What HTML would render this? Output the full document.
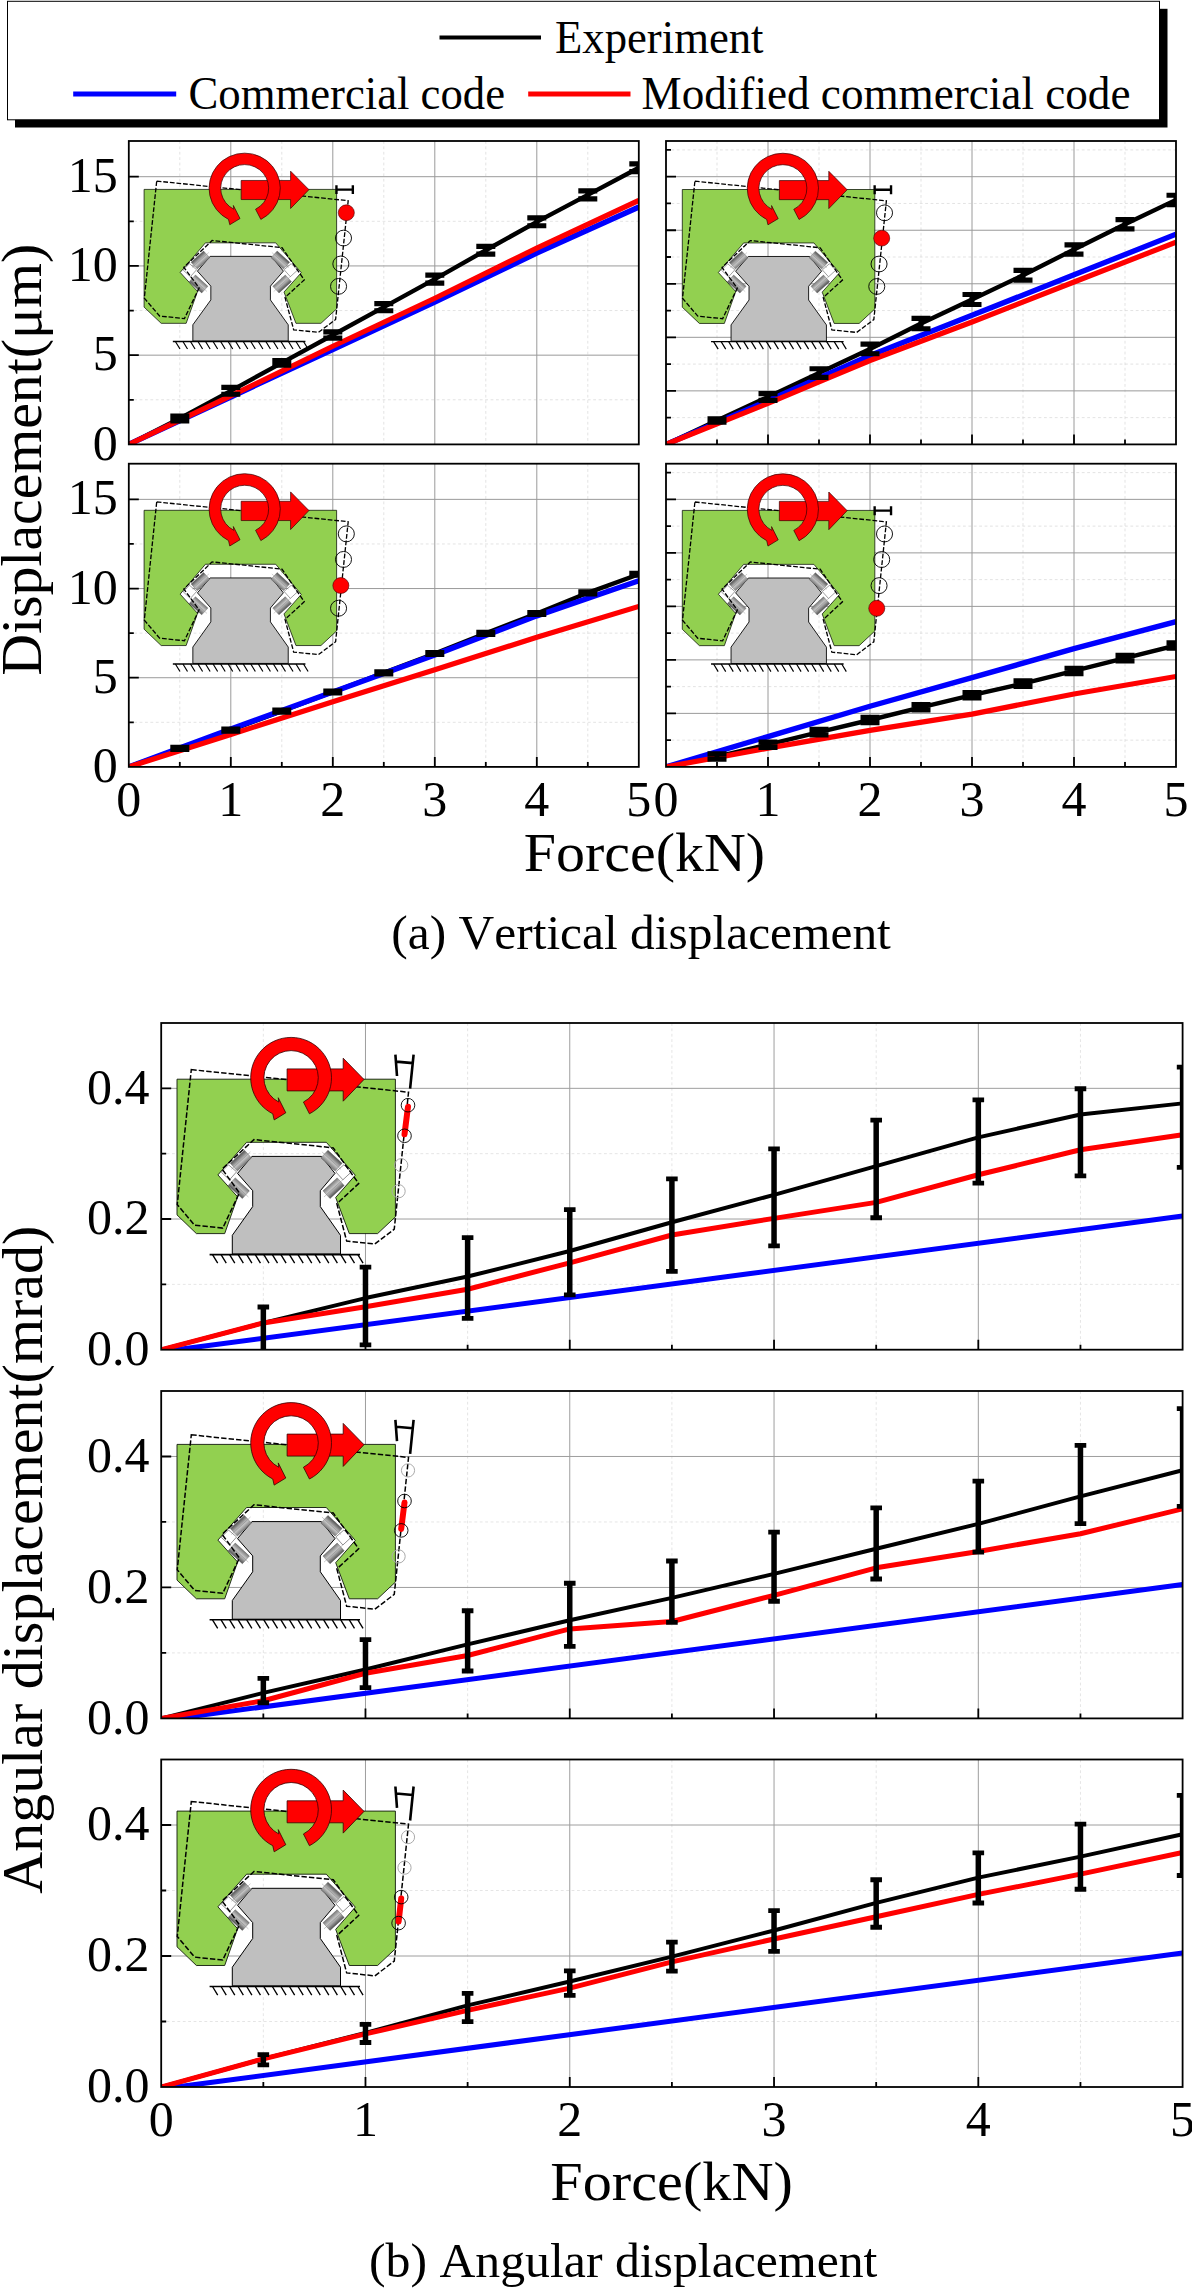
<!DOCTYPE html>
<html lang="en"><head><meta charset="utf-8"><title>Displacement vs force</title>
<style>html,body{margin:0;padding:0;background:#fff}svg{display:block}text{font-family:'Liberation Serif', 'DejaVu Serif', serif;fill:#000;font-kerning:none}</style>
</head><body>
<svg width="1192" height="2291" viewBox="0 0 1192 2291">
<rect width="1192" height="2291" fill="#fff"/>
<defs>
<linearGradient id="rg" x1="0" y1="0" x2="0" y2="1"><stop offset="0" stop-color="#525252"/><stop offset="0.45" stop-color="#b4b4b4"/><stop offset="0.6" stop-color="#c2c2c2"/><stop offset="1" stop-color="#7a7a7a"/></linearGradient>
<g id="blkA">
<polygon points="0,0 218.4,0 218.4,137.7 200.6,154.4 172.3,154.4 158.7,118.3 178.3,96 149.3,61.6 69.6,61.6 40.9,95.7 60.6,117.6 47.7,154.4 19.4,154.4 0,135.7" fill="#92d050" stroke="#10180a" stroke-width="0.9"/>
<polygon points="51.5,85.6 59.6,92.6 52.5,100.6 44.3,93" fill="#fff" stroke="#222" stroke-width="0.5"/>
<polygon points="166.9,85.6 158.8,92.6 165.9,100.6 174.1,93" fill="#fff" stroke="#222" stroke-width="0.5"/>
<polygon points="74.9,77.2 144.4,77.2 158,94.2 143.3,111.5 143.3,127.4 163.5,156.1 163.5,174.8 55.3,174.8 55.3,156.1 75.7,127.4 75.7,111.5 60.5,94.2" fill="#bfbfbf" stroke="#000" stroke-width="1"/>
<g transform="translate(63.9 81.4) rotate(-42.5)"><rect x="-9.6" y="-5.2" width="19.2" height="10.4" fill="url(#rg)" stroke="#555" stroke-width="0.4"/><line x1="-13" y1="0" x2="13" y2="0" stroke="#777" stroke-width="0.35"/></g>
<g transform="translate(61.8 109) rotate(222.5)"><rect x="-9.6" y="-5.2" width="19.2" height="10.4" fill="url(#rg)" stroke="#555" stroke-width="0.4"/><line x1="-13" y1="0" x2="13" y2="0" stroke="#777" stroke-width="0.35"/></g>
<g transform="translate(154.5 81.4) rotate(42.5)"><rect x="-9.6" y="-5.2" width="19.2" height="10.4" fill="url(#rg)" stroke="#555" stroke-width="0.4"/><line x1="-13" y1="0" x2="13" y2="0" stroke="#777" stroke-width="0.35"/></g>
<g transform="translate(156.6 109) rotate(137.5)"><rect x="-9.6" y="-5.2" width="19.2" height="10.4" fill="url(#rg)" stroke="#555" stroke-width="0.4"/><line x1="-13" y1="0" x2="13" y2="0" stroke="#777" stroke-width="0.35"/></g>
<line x1="32.6" y1="175.4" x2="183" y2="175.4" stroke="#000" stroke-width="1.6"/>
<path d="M35.5 175.4l5.2 8.6M44.05 175.4l5.2 8.6M52.6 175.4l5.2 8.6M61.15 175.4l5.2 8.6M69.7 175.4l5.2 8.6M78.25 175.4l5.2 8.6M86.8 175.4l5.2 8.6M95.35 175.4l5.2 8.6M103.9 175.4l5.2 8.6M112.45 175.4l5.2 8.6M121 175.4l5.2 8.6M129.55 175.4l5.2 8.6M138.1 175.4l5.2 8.6M146.65 175.4l5.2 8.6M155.2 175.4l5.2 8.6M163.75 175.4l5.2 8.6M172.3 175.4l5.2 8.6M180.85 175.4l5.2 8.6" stroke="#000" stroke-width="1.35" fill="none"/>
<polygon points="0,0 218.4,0 218.4,137.7 200.6,154.4 172.3,154.4 158.7,118.3 178.3,96 149.3,61.6 69.6,61.6 40.9,95.7 60.6,117.6 47.7,154.4 19.4,154.4 0,135.7" fill="none" stroke="#000" stroke-width="1.5" stroke-dasharray="5.4 2.1" transform="rotate(5.95 99.5 132.8)"/>
<polygon points="110.1,-10.3 166.2,-10.3 166.2,-21 187,0.3 166.2,22 166.2,11.7 110.1,11.7" fill="#f00" stroke="#300" stroke-width="0.8"/>
<path d="M132.44 34.6 A40.4 40.4 0 1 0 95.76 34.6 L97.17 40.72 L108.81 33.6 L101.26 18.52 L101.75 22.84 A27.2 27.2 0 1 1 126.45 22.84 Z" fill="#f00" stroke="#300" stroke-width="0.8" stroke-linejoin="miter"/>
</g>
<g id="blkB">
<polygon points="0,0 218.4,0 218.4,137.7 200.6,154.4 172.3,154.4 158.7,118.3 178.3,96 149.3,63.1 69.6,63.1 40.9,95.7 60.6,117.6 47.7,154.4 19.4,154.4 0,135.7" fill="#92d050" stroke="#10180a" stroke-width="0.9"/>
<polygon points="51.5,85.6 59.6,92.6 52.5,100.6 44.3,93" fill="#fff" stroke="#222" stroke-width="0.5"/>
<polygon points="166.9,85.6 158.8,92.6 165.9,100.6 174.1,93" fill="#fff" stroke="#222" stroke-width="0.5"/>
<polygon points="74.9,77.2 144.4,77.2 158,94.2 143.3,111.5 143.3,127.4 163.5,156.1 163.5,174.8 55.3,174.8 55.3,156.1 75.7,127.4 75.7,111.5 60.5,94.2" fill="#bfbfbf" stroke="#000" stroke-width="1"/>
<g transform="translate(63.9 81.4) rotate(-42.5)"><rect x="-9.6" y="-5.2" width="19.2" height="10.4" fill="url(#rg)" stroke="#555" stroke-width="0.4"/><line x1="-13" y1="0" x2="13" y2="0" stroke="#777" stroke-width="0.35"/></g>
<g transform="translate(61.8 109) rotate(222.5)"><rect x="-9.6" y="-5.2" width="19.2" height="10.4" fill="url(#rg)" stroke="#555" stroke-width="0.4"/><line x1="-13" y1="0" x2="13" y2="0" stroke="#777" stroke-width="0.35"/></g>
<g transform="translate(154.5 81.4) rotate(42.5)"><rect x="-9.6" y="-5.2" width="19.2" height="10.4" fill="url(#rg)" stroke="#555" stroke-width="0.4"/><line x1="-13" y1="0" x2="13" y2="0" stroke="#777" stroke-width="0.35"/></g>
<g transform="translate(156.6 109) rotate(137.5)"><rect x="-9.6" y="-5.2" width="19.2" height="10.4" fill="url(#rg)" stroke="#555" stroke-width="0.4"/><line x1="-13" y1="0" x2="13" y2="0" stroke="#777" stroke-width="0.35"/></g>
<line x1="32.6" y1="175.4" x2="183" y2="175.4" stroke="#000" stroke-width="1.6"/>
<path d="M35.5 175.4l5.2 8.6M44.05 175.4l5.2 8.6M52.6 175.4l5.2 8.6M61.15 175.4l5.2 8.6M69.7 175.4l5.2 8.6M78.25 175.4l5.2 8.6M86.8 175.4l5.2 8.6M95.35 175.4l5.2 8.6M103.9 175.4l5.2 8.6M112.45 175.4l5.2 8.6M121 175.4l5.2 8.6M129.55 175.4l5.2 8.6M138.1 175.4l5.2 8.6M146.65 175.4l5.2 8.6M155.2 175.4l5.2 8.6M163.75 175.4l5.2 8.6M172.3 175.4l5.2 8.6M180.85 175.4l5.2 8.6" stroke="#000" stroke-width="1.35" fill="none"/>
<polygon points="0,0 218.4,0 218.4,137.7 200.6,154.4 172.3,154.4 158.7,118.3 178.3,96 149.3,63.1 69.6,63.1 40.9,95.7 60.6,117.6 47.7,154.4 19.4,154.4 0,135.7" fill="none" stroke="#000" stroke-width="1.5" stroke-dasharray="5.4 2.1" transform="rotate(5.95 99.5 132.8)"/>
<polygon points="110.1,-10.3 166.2,-10.3 166.2,-21 187,0.3 166.2,22 166.2,11.7 110.1,11.7" fill="#f00" stroke="#300" stroke-width="0.8"/>
<path d="M132.44 34.6 A40.4 40.4 0 1 0 95.76 34.6 L97.17 40.72 L108.81 33.6 L101.26 18.52 L101.75 22.84 A27.2 27.2 0 1 1 126.45 22.84 Z" fill="#f00" stroke="#300" stroke-width="0.8" stroke-linejoin="miter"/>
</g>
</defs>
<rect x="15" y="8.8" width="1152.5" height="118.7" fill="#000"/>
<rect x="7.5" y="1.3" width="1152" height="118.5" fill="#fff" stroke="#000" stroke-width="1"/>
<line x1="439.5" y1="37.6" x2="541" y2="37.6" stroke="#000" stroke-width="4"/>
<line x1="73.2" y1="94" x2="176.2" y2="94" stroke="#00f" stroke-width="5.2"/>
<line x1="528.2" y1="94" x2="630.5" y2="94" stroke="#f00" stroke-width="5.2"/>
<text x="555" y="52.7" font-size="45.5" text-anchor="start" textLength="208.5" lengthAdjust="spacingAndGlyphs">Experiment</text>
<text x="188.5" y="109" font-size="45.5" text-anchor="start" textLength="316.5" lengthAdjust="spacingAndGlyphs">Commercial code</text>
<text x="641.5" y="109" font-size="45.5" text-anchor="start" textLength="489" lengthAdjust="spacingAndGlyphs">Modified commercial code</text>
<clipPath id="c0"><rect x="128.8" y="141" width="510" height="303.4"/></clipPath>
<rect x="128.8" y="141" width="510" height="303.4" fill="#fff"/>
<path d="M179.8 141V444.4M281.8 141V444.4M383.8 141V444.4M485.8 141V444.4M587.8 141V444.4M128.8 399.78H638.8M128.8 310.55H638.8M128.8 221.31H638.8" stroke="#d9d9d9" stroke-width="0.75" stroke-dasharray="2.8 2.6" fill="none"/>
<path d="M230.8 141V444.4M332.8 141V444.4M434.8 141V444.4M536.8 141V444.4M128.8 355.16H638.8M128.8 265.93H638.8M128.8 176.69H638.8" stroke="#9a9a9a" stroke-width="1" fill="none"/>
<g transform="translate(144.1 189.4) scale(0.8815 0.8675)">
<use href="#blkA"/>
<path d="M218.2 0.3H236.8M218.2 -4.8V5.4M236.8 -4.8V5.4" stroke="#000" stroke-width="2.7" fill="none"/>
<circle cx="229.4" cy="26.9" r="9.1" fill="#f00" stroke="#400" stroke-width="0.7"/>
<circle cx="226.2" cy="56.1" r="9.1" fill="none" stroke="#000" stroke-width="1.05"/>
<circle cx="223.2" cy="85.9" r="9.1" fill="none" stroke="#000" stroke-width="1.05"/>
<circle cx="220.6" cy="111.8" r="9.1" fill="none" stroke="#000" stroke-width="1.05"/>
</g>
<g clip-path="url(#c0)" fill="none" stroke-linejoin="round">
<polyline points="128.8,444.4 179.8,418.52 230.8,390.86 281.8,362.84 332.8,335 383.8,307.16 434.8,279.14 485.8,250.22 536.8,221.85 587.8,194.9 638.8,167.77" stroke="#000" stroke-width="4.4"/>
<polyline points="128.8,444.4 230.8,396.93 332.8,349.45 434.8,301.98 536.8,253.08 638.8,207.03" stroke="#00f" stroke-width="5.4"/>
<polyline points="128.8,444.4 230.8,395.86 332.8,346.24 434.8,298.23 536.8,248.08 638.8,200.43" stroke="#f00" stroke-width="5.2"/>
<path d="M179.8 416.2V420.84" stroke="#000" stroke-width="5"/>
<path d="M170.3 416.2H189.3M170.3 420.84H189.3" stroke="#000" stroke-width="5.2"/>
<path d="M230.8 387.47V394.25" stroke="#000" stroke-width="5"/>
<path d="M221.3 387.47H240.3M221.3 394.25H240.3" stroke="#000" stroke-width="5.2"/>
<path d="M281.8 360.52V365.16" stroke="#000" stroke-width="5"/>
<path d="M272.3 360.52H291.3M272.3 365.16H291.3" stroke="#000" stroke-width="5.2"/>
<path d="M332.8 331.96V338.03" stroke="#000" stroke-width="5"/>
<path d="M323.3 331.96H342.3M323.3 338.03H342.3" stroke="#000" stroke-width="5.2"/>
<path d="M383.8 303.59V310.73" stroke="#000" stroke-width="5"/>
<path d="M374.3 303.59H393.3M374.3 310.73H393.3" stroke="#000" stroke-width="5.2"/>
<path d="M434.8 275.21V283.06" stroke="#000" stroke-width="5"/>
<path d="M425.3 275.21H444.3M425.3 283.06H444.3" stroke="#000" stroke-width="5.2"/>
<path d="M485.8 246.3V254.15" stroke="#000" stroke-width="5"/>
<path d="M476.3 246.3H495.3M476.3 254.15H495.3" stroke="#000" stroke-width="5.2"/>
<path d="M536.8 217.92V225.77" stroke="#000" stroke-width="5"/>
<path d="M527.3 217.92H546.3M527.3 225.77H546.3" stroke="#000" stroke-width="5.2"/>
<path d="M587.8 190.97V198.82" stroke="#000" stroke-width="5"/>
<path d="M578.3 190.97H597.3M578.3 198.82H597.3" stroke="#000" stroke-width="5.2"/>
<path d="M638.8 163.84V171.7" stroke="#000" stroke-width="5"/>
<path d="M629.3 163.84H648.3M629.3 171.7H648.3" stroke="#000" stroke-width="5.2"/>
</g>
<path d="M128.8 355.16H138.8M128.8 265.93H138.8M128.8 176.69H138.8M128.8 399.78H133.8M128.8 310.55H133.8M128.8 221.31H133.8" stroke="#000" stroke-width="1.8" fill="none"/>
<rect x="128.8" y="141" width="510" height="303.4" fill="none" stroke="#000" stroke-width="1.8"/>
<clipPath id="c1"><rect x="666" y="141" width="510" height="303.4"/></clipPath>
<rect x="666" y="141" width="510" height="303.4" fill="#fff"/>
<path d="M717 141V444.4M819 141V444.4M921 141V444.4M1023 141V444.4M1125 141V444.4M666 417.63H1176M666 364.09H1176M666 310.55H1176M666 257.01H1176M666 203.46H1176M666 149.92H1176" stroke="#d9d9d9" stroke-width="0.75" stroke-dasharray="2.8 2.6" fill="none"/>
<path d="M768 141V444.4M870 141V444.4M972 141V444.4M1074 141V444.4M666 390.86H1176M666 337.32H1176M666 283.78H1176M666 230.24H1176M666 176.69H1176" stroke="#9a9a9a" stroke-width="1" fill="none"/>
<g transform="translate(682.3 189.5) scale(0.8815 0.8675)">
<use href="#blkA"/>
<path d="M218.2 0.3H236.8M218.2 -4.8V5.4M236.8 -4.8V5.4" stroke="#000" stroke-width="2.7" fill="none"/>
<circle cx="229.4" cy="26.9" r="9.1" fill="none" stroke="#000" stroke-width="1.05"/>
<circle cx="226.2" cy="56.1" r="9.1" fill="#f00" stroke="#400" stroke-width="0.7"/>
<circle cx="223.2" cy="85.9" r="9.1" fill="none" stroke="#000" stroke-width="1.05"/>
<circle cx="220.6" cy="111.8" r="9.1" fill="none" stroke="#000" stroke-width="1.05"/>
</g>
<g clip-path="url(#c1)" fill="none" stroke-linejoin="round">
<polyline points="666,444.4 717,420.48 768,396.93 819,373.01 870,348.92 921,323.58 972,299.48 1023,275.21 1074,249.51 1125,224.17 1176,199.9" stroke="#000" stroke-width="4.4"/>
<polyline points="666,444.4 768,400.67 819,378.01 870,355.52 972,315.19 1074,274.85 1176,234.16" stroke="#00f" stroke-width="5.4"/>
<polyline points="666,444.4 768,403.35 819,381.94 870,360.52 972,321.97 1074,281.99 1176,242.19" stroke="#f00" stroke-width="5.2"/>
<path d="M717 418.83V422.14" stroke="#000" stroke-width="5"/>
<path d="M707.5 418.83H726.5M707.5 422.14H726.5" stroke="#000" stroke-width="5.2"/>
<path d="M768 393.54V400.32" stroke="#000" stroke-width="5"/>
<path d="M758.5 393.54H777.5M758.5 400.32H777.5" stroke="#000" stroke-width="5.2"/>
<path d="M819 368.73V377.3" stroke="#000" stroke-width="5"/>
<path d="M809.5 368.73H828.5M809.5 377.3H828.5" stroke="#000" stroke-width="5.2"/>
<path d="M870 344.1V353.74" stroke="#000" stroke-width="5"/>
<path d="M860.5 344.1H879.5M860.5 353.74H879.5" stroke="#000" stroke-width="5.2"/>
<path d="M921 318.4V328.75" stroke="#000" stroke-width="5"/>
<path d="M911.5 318.4H930.5M911.5 328.75H930.5" stroke="#000" stroke-width="5.2"/>
<path d="M972 294.48V304.48" stroke="#000" stroke-width="5"/>
<path d="M962.5 294.48H981.5M962.5 304.48H981.5" stroke="#000" stroke-width="5.2"/>
<path d="M1023 270.39V280.03" stroke="#000" stroke-width="5"/>
<path d="M1013.5 270.39H1032.5M1013.5 280.03H1032.5" stroke="#000" stroke-width="5.2"/>
<path d="M1074 244.87V254.15" stroke="#000" stroke-width="5"/>
<path d="M1064.5 244.87H1083.5M1064.5 254.15H1083.5" stroke="#000" stroke-width="5.2"/>
<path d="M1125 219.53V228.81" stroke="#000" stroke-width="5"/>
<path d="M1115.5 219.53H1134.5M1115.5 228.81H1134.5" stroke="#000" stroke-width="5.2"/>
<path d="M1176 195.26V204.54" stroke="#000" stroke-width="5"/>
<path d="M1166.5 195.26H1185.5M1166.5 204.54H1185.5" stroke="#000" stroke-width="5.2"/>
</g>
<path d="M717 444.4V439.4M768 444.4V434.4M819 444.4V439.4M870 444.4V434.4M921 444.4V439.4M972 444.4V434.4M1023 444.4V439.4M1074 444.4V434.4M1125 444.4V439.4M666 390.86H676M666 337.32H676M666 283.78H676M666 230.24H676M666 176.69H676M666 417.63H671M666 364.09H671M666 310.55H671M666 257.01H671M666 203.46H671M666 149.92H671" stroke="#000" stroke-width="1.8" fill="none"/>
<rect x="666" y="141" width="510" height="303.4" fill="none" stroke="#000" stroke-width="1.8"/>
<clipPath id="c2"><rect x="128.8" y="463.7" width="510" height="303.2"/></clipPath>
<rect x="128.8" y="463.7" width="510" height="303.2" fill="#fff"/>
<path d="M179.8 463.7V766.9M281.8 463.7V766.9M383.8 463.7V766.9M485.8 463.7V766.9M587.8 463.7V766.9M128.8 722.31H638.8M128.8 633.14H638.8M128.8 543.96H638.8" stroke="#d9d9d9" stroke-width="0.75" stroke-dasharray="2.8 2.6" fill="none"/>
<path d="M230.8 463.7V766.9M332.8 463.7V766.9M434.8 463.7V766.9M536.8 463.7V766.9M128.8 677.72H638.8M128.8 588.55H638.8M128.8 499.37H638.8" stroke="#9a9a9a" stroke-width="1" fill="none"/>
<g transform="translate(144.1 510.3) scale(0.8815 0.876)">
<use href="#blkA"/>
<circle cx="229.4" cy="26.9" r="9.1" fill="none" stroke="#000" stroke-width="1.05"/>
<circle cx="226.2" cy="56.1" r="9.1" fill="none" stroke="#000" stroke-width="1.05"/>
<circle cx="223.2" cy="85.9" r="9.1" fill="#f00" stroke="#400" stroke-width="0.7"/>
<circle cx="220.6" cy="111.8" r="9.1" fill="none" stroke="#000" stroke-width="1.05"/>
</g>
<g clip-path="url(#c2)" fill="none" stroke-linejoin="round">
<polyline points="128.8,766.9 179.8,748.35 230.8,730.16 281.8,711.08 332.8,691.99 383.8,672.91 434.8,653.47 485.8,633.31 536.8,613.52 587.8,592.83 638.8,574.28" stroke="#000" stroke-width="4.4"/>
<polyline points="128.8,766.9 230.8,729.09 332.8,691.99 434.8,654.89 536.8,615.84 638.8,580.7" stroke="#00f" stroke-width="5.4"/>
<polyline points="128.8,766.9 230.8,734.44 332.8,701.8 434.8,669.7 536.8,637.24 638.8,606.38" stroke="#f00" stroke-width="5.2"/>
<path d="M179.8 747.37V749.33" stroke="#000" stroke-width="5"/>
<path d="M170.3 747.37H189.3M170.3 749.33H189.3" stroke="#000" stroke-width="5.2"/>
<path d="M230.8 729.18V731.14" stroke="#000" stroke-width="5"/>
<path d="M221.3 729.18H240.3M221.3 731.14H240.3" stroke="#000" stroke-width="5.2"/>
<path d="M281.8 710.09V712.06" stroke="#000" stroke-width="5"/>
<path d="M272.3 710.09H291.3M272.3 712.06H291.3" stroke="#000" stroke-width="5.2"/>
<path d="M332.8 691.01V692.97" stroke="#000" stroke-width="5"/>
<path d="M323.3 691.01H342.3M323.3 692.97H342.3" stroke="#000" stroke-width="5.2"/>
<path d="M383.8 671.93V673.89" stroke="#000" stroke-width="5"/>
<path d="M374.3 671.93H393.3M374.3 673.89H393.3" stroke="#000" stroke-width="5.2"/>
<path d="M434.8 652.49V654.45" stroke="#000" stroke-width="5"/>
<path d="M425.3 652.49H444.3M425.3 654.45H444.3" stroke="#000" stroke-width="5.2"/>
<path d="M485.8 632.33V634.29" stroke="#000" stroke-width="5"/>
<path d="M476.3 632.33H495.3M476.3 634.29H495.3" stroke="#000" stroke-width="5.2"/>
<path d="M536.8 612.54V614.5" stroke="#000" stroke-width="5"/>
<path d="M527.3 612.54H546.3M527.3 614.5H546.3" stroke="#000" stroke-width="5.2"/>
<path d="M587.8 591.85V593.81" stroke="#000" stroke-width="5"/>
<path d="M578.3 591.85H597.3M578.3 593.81H597.3" stroke="#000" stroke-width="5.2"/>
<path d="M638.8 573.3V575.26" stroke="#000" stroke-width="5"/>
<path d="M629.3 573.3H648.3M629.3 575.26H648.3" stroke="#000" stroke-width="5.2"/>
</g>
<path d="M179.8 766.9V761.9M230.8 766.9V756.9M281.8 766.9V761.9M332.8 766.9V756.9M383.8 766.9V761.9M434.8 766.9V756.9M485.8 766.9V761.9M536.8 766.9V756.9M587.8 766.9V761.9M128.8 677.72H138.8M128.8 588.55H138.8M128.8 499.37H138.8M128.8 722.31H133.8M128.8 633.14H133.8M128.8 543.96H133.8" stroke="#000" stroke-width="1.8" fill="none"/>
<rect x="128.8" y="463.7" width="510" height="303.2" fill="none" stroke="#000" stroke-width="1.8"/>
<clipPath id="c3"><rect x="666" y="463.7" width="510" height="303.2"/></clipPath>
<rect x="666" y="463.7" width="510" height="303.2" fill="#fff"/>
<path d="M717 463.7V766.9M819 463.7V766.9M921 463.7V766.9M1023 463.7V766.9M1125 463.7V766.9M666 740.15H1176M666 686.64H1176M666 633.14H1176M666 579.63H1176M666 526.12H1176M666 472.62H1176" stroke="#d9d9d9" stroke-width="0.75" stroke-dasharray="2.8 2.6" fill="none"/>
<path d="M768 463.7V766.9M870 463.7V766.9M972 463.7V766.9M1074 463.7V766.9M666 713.39H1176M666 659.89H1176M666 606.38H1176M666 552.88H1176M666 499.37H1176" stroke="#9a9a9a" stroke-width="1" fill="none"/>
<g transform="translate(682.3 510.4) scale(0.8815 0.876)">
<use href="#blkA"/>
<path d="M218.2 0.3H236.8M218.2 -4.8V5.4M236.8 -4.8V5.4" stroke="#000" stroke-width="2.7" fill="none"/>
<circle cx="229.4" cy="26.9" r="9.1" fill="none" stroke="#000" stroke-width="1.05"/>
<circle cx="226.2" cy="56.1" r="9.1" fill="none" stroke="#000" stroke-width="1.05"/>
<circle cx="223.2" cy="85.9" r="9.1" fill="none" stroke="#000" stroke-width="1.05"/>
<circle cx="220.6" cy="111.8" r="9.1" fill="#f00" stroke="#400" stroke-width="0.7"/>
</g>
<g clip-path="url(#c3)" fill="none" stroke-linejoin="round">
<polyline points="666,766.9 717,756.56 768,744.7 819,732.12 870,719.99 921,707.33 972,695.2 1023,683.61 1074,670.95 1125,658.1 1176,645.44" stroke="#000" stroke-width="4.4"/>
<polyline points="666,766.9 768,736.58 870,706.26 972,677.72 1074,648.65 1176,621.72" stroke="#00f" stroke-width="5.4"/>
<polyline points="666,766.9 768,748.17 870,730.34 972,714.11 1074,693.95 1176,676.48" stroke="#f00" stroke-width="5.2"/>
<path d="M717 753.88V759.23" stroke="#000" stroke-width="5"/>
<path d="M707.5 753.88H726.5M707.5 759.23H726.5" stroke="#000" stroke-width="5.2"/>
<path d="M768 742.02V747.37" stroke="#000" stroke-width="5"/>
<path d="M758.5 742.02H777.5M758.5 747.37H777.5" stroke="#000" stroke-width="5.2"/>
<path d="M819 729.45V734.8" stroke="#000" stroke-width="5"/>
<path d="M809.5 729.45H828.5M809.5 734.8H828.5" stroke="#000" stroke-width="5.2"/>
<path d="M870 717.32V722.67" stroke="#000" stroke-width="5"/>
<path d="M860.5 717.32H879.5M860.5 722.67H879.5" stroke="#000" stroke-width="5.2"/>
<path d="M921 704.65V710.01" stroke="#000" stroke-width="5"/>
<path d="M911.5 704.65H930.5M911.5 710.01H930.5" stroke="#000" stroke-width="5.2"/>
<path d="M972 692.53V697.88" stroke="#000" stroke-width="5"/>
<path d="M962.5 692.53H981.5M962.5 697.88H981.5" stroke="#000" stroke-width="5.2"/>
<path d="M1023 680.93V686.28" stroke="#000" stroke-width="5"/>
<path d="M1013.5 680.93H1032.5M1013.5 686.28H1032.5" stroke="#000" stroke-width="5.2"/>
<path d="M1074 668.27V673.62" stroke="#000" stroke-width="5"/>
<path d="M1064.5 668.27H1083.5M1064.5 673.62H1083.5" stroke="#000" stroke-width="5.2"/>
<path d="M1125 655.43V660.78" stroke="#000" stroke-width="5"/>
<path d="M1115.5 655.43H1134.5M1115.5 660.78H1134.5" stroke="#000" stroke-width="5.2"/>
<path d="M1176 642.77V648.12" stroke="#000" stroke-width="5"/>
<path d="M1166.5 642.77H1185.5M1166.5 648.12H1185.5" stroke="#000" stroke-width="5.2"/>
</g>
<path d="M717 766.9V761.9M768 766.9V756.9M819 766.9V761.9M870 766.9V756.9M921 766.9V761.9M972 766.9V756.9M1023 766.9V761.9M1074 766.9V756.9M1125 766.9V761.9M666 713.39H676M666 659.89H676M666 606.38H676M666 552.88H676M666 499.37H676M666 740.15H671M666 686.64H671M666 633.14H671M666 579.63H671M666 526.12H671M666 472.62H671" stroke="#000" stroke-width="1.8" fill="none"/>
<rect x="666" y="463.7" width="510" height="303.2" fill="none" stroke="#000" stroke-width="1.8"/>
<text x="117.8" y="459.5" font-size="50" text-anchor="end">0</text>
<text x="117.8" y="370.26" font-size="50" text-anchor="end">5</text>
<text x="117.8" y="281.03" font-size="50" text-anchor="end">10</text>
<text x="117.8" y="191.79" font-size="50" text-anchor="end">15</text>
<text x="117.8" y="782" font-size="50" text-anchor="end">0</text>
<text x="117.8" y="692.82" font-size="50" text-anchor="end">5</text>
<text x="117.8" y="603.65" font-size="50" text-anchor="end">10</text>
<text x="117.8" y="514.47" font-size="50" text-anchor="end">15</text>
<text x="128.8" y="816.2" font-size="50" text-anchor="middle">0</text>
<text x="230.8" y="816.2" font-size="50" text-anchor="middle">1</text>
<text x="332.8" y="816.2" font-size="50" text-anchor="middle">2</text>
<text x="434.8" y="816.2" font-size="50" text-anchor="middle">3</text>
<text x="536.8" y="816.2" font-size="50" text-anchor="middle">4</text>
<text x="638.8" y="816.2" font-size="50" text-anchor="middle">5</text>
<text x="666" y="816.2" font-size="50" text-anchor="middle">0</text>
<text x="768" y="816.2" font-size="50" text-anchor="middle">1</text>
<text x="870" y="816.2" font-size="50" text-anchor="middle">2</text>
<text x="972" y="816.2" font-size="50" text-anchor="middle">3</text>
<text x="1074" y="816.2" font-size="50" text-anchor="middle">4</text>
<text x="1176" y="816.2" font-size="50" text-anchor="middle">5</text>
<text x="644.4" y="871" font-size="54.5" text-anchor="middle" textLength="241.5" lengthAdjust="spacingAndGlyphs">Force(kN)</text>
<text x="641.1" y="948.7" font-size="49" text-anchor="middle" textLength="499.5" lengthAdjust="spacingAndGlyphs">(a) Vertical displacement</text>
<text transform="translate(41 459.8) rotate(-90)" font-size="57.5" text-anchor="middle" textLength="432" lengthAdjust="spacingAndGlyphs">Displacement(μm)</text>
<clipPath id="c4"><rect x="161.2" y="1023" width="1021.4" height="326.7"/></clipPath>
<rect x="161.2" y="1023" width="1021.4" height="326.7" fill="#fff"/>
<path d="M263.34 1023V1349.7M467.62 1023V1349.7M671.9 1023V1349.7M876.18 1023V1349.7M1080.46 1023V1349.7M161.2 1284.36H1182.6M161.2 1153.68H1182.6" stroke="#dcdcdc" stroke-width="0.75" stroke-dasharray="2.8 2.6" fill="none"/>
<path d="M365.48 1023V1349.7M569.76 1023V1349.7M774.04 1023V1349.7M978.32 1023V1349.7M161.2 1219.02H1182.6M161.2 1088.34H1182.6" stroke="#9e9e9e" stroke-width="1" fill="none"/>
<g transform="translate(177 1079.2)">
<use href="#blkB"/>
<path d="M218.4 -24.6L220 -3.2M236.6 -24.6L233.1 9.4M219.3 -17.6L235.8 -16.1" stroke="#000" stroke-width="2.6" fill="none"/>
<circle cx="224.2" cy="86" r="6.6" fill="none" stroke="#aaa" stroke-width="1"/>
<circle cx="221.6" cy="112" r="6.6" fill="none" stroke="#aaa" stroke-width="1"/>
<line x1="231" y1="27.5" x2="227.5" y2="55.1" stroke="#f00" stroke-width="6" stroke-linecap="round"/>
<circle cx="231" cy="26" r="6.8" fill="none" stroke="#000" stroke-width="0.9"/>
<circle cx="227.5" cy="56.6" r="6.8" fill="none" stroke="#000" stroke-width="0.9"/>
</g>
<g clip-path="url(#c4)" fill="none" stroke-linejoin="round">
<polyline points="161.2,1349.7 181.63,1349.05 1182.6,1216.08" stroke="#00f" stroke-width="5"/>
<polyline points="161.2,1349.7 263.34,1322.91 365.48,1298.08 467.62,1276.52 569.76,1251.04 671.9,1222.29 774.04,1194.84 876.18,1166.09 978.32,1137.35 1080.46,1114.48 1182.6,1103.37" stroke="#000" stroke-width="4"/>
<polyline points="161.2,1349.7 263.34,1322.91 365.48,1306.84 467.62,1289.26 569.76,1262.8 671.9,1235.03 774.04,1218.37 876.18,1202.36 978.32,1174.78 1080.46,1149.76 1182.6,1134.73" stroke="#f00" stroke-width="5"/>
<path d="M263.34 1306.58V1362.77" stroke="#000" stroke-width="5.5"/>
<path d="M257.54 1306.98H269.14M257.54 1362.17H269.14" stroke="#000" stroke-width="4.8"/>
<path d="M365.48 1266.72V1345.52" stroke="#000" stroke-width="5.5"/>
<path d="M359.68 1267.12H371.28M359.68 1344.92H371.28" stroke="#000" stroke-width="4.8"/>
<path d="M467.62 1237.32V1318.99" stroke="#000" stroke-width="5.5"/>
<path d="M461.82 1237.72H473.42M461.82 1318.39H473.42" stroke="#000" stroke-width="4.8"/>
<path d="M569.76 1209.22V1295.47" stroke="#000" stroke-width="5.5"/>
<path d="M563.96 1209.62H575.56M563.96 1294.87H575.56" stroke="#000" stroke-width="4.8"/>
<path d="M671.9 1178.51V1271.95" stroke="#000" stroke-width="5.5"/>
<path d="M666.1 1178.91H677.7M666.1 1271.35H677.7" stroke="#000" stroke-width="4.8"/>
<path d="M774.04 1148.45V1246.46" stroke="#000" stroke-width="5.5"/>
<path d="M768.24 1148.85H779.84M768.24 1245.86H779.84" stroke="#000" stroke-width="4.8"/>
<path d="M876.18 1119.7V1218.37" stroke="#000" stroke-width="5.5"/>
<path d="M870.38 1120.1H881.98M870.38 1217.77H881.98" stroke="#000" stroke-width="4.8"/>
<path d="M978.32 1099.45V1183.74" stroke="#000" stroke-width="5.5"/>
<path d="M972.52 1099.85H984.12M972.52 1183.14H984.12" stroke="#000" stroke-width="4.8"/>
<path d="M1080.46 1088.34V1176.55" stroke="#000" stroke-width="5.5"/>
<path d="M1074.66 1088.74H1086.26M1074.66 1175.95H1086.26" stroke="#000" stroke-width="4.8"/>
<path d="M1182.6 1066.78V1168.05" stroke="#000" stroke-width="5.5"/>
<path d="M1176.8 1067.18H1188.4M1176.8 1167.45H1188.4" stroke="#000" stroke-width="4.8"/>
</g>
<path d="M263.34 1349.7V1344.7M365.48 1349.7V1339.7M467.62 1349.7V1344.7M569.76 1349.7V1339.7M671.9 1349.7V1344.7M774.04 1349.7V1339.7M876.18 1349.7V1344.7M978.32 1349.7V1339.7M1080.46 1349.7V1344.7M161.2 1219.02H171.2M161.2 1088.34H171.2M161.2 1284.36H166.2M161.2 1153.68H166.2" stroke="#000" stroke-width="1.8" fill="none"/>
<rect x="161.2" y="1023" width="1021.4" height="326.7" fill="none" stroke="#000" stroke-width="1.8"/>
<text x="149.6" y="1364.9" font-size="50" text-anchor="end">0.0</text>
<text x="149.6" y="1234.22" font-size="50" text-anchor="end">0.2</text>
<text x="149.6" y="1103.54" font-size="50" text-anchor="end">0.4</text>
<clipPath id="c5"><rect x="161.2" y="1391" width="1021.4" height="327.4"/></clipPath>
<rect x="161.2" y="1391" width="1021.4" height="327.4" fill="#fff"/>
<path d="M263.34 1391V1718.4M467.62 1391V1718.4M671.9 1391V1718.4M876.18 1391V1718.4M1080.46 1391V1718.4M161.2 1652.92H1182.6M161.2 1521.96H1182.6" stroke="#dcdcdc" stroke-width="0.75" stroke-dasharray="2.8 2.6" fill="none"/>
<path d="M365.48 1391V1718.4M569.76 1391V1718.4M774.04 1391V1718.4M978.32 1391V1718.4M161.2 1587.44H1182.6M161.2 1456.48H1182.6" stroke="#9e9e9e" stroke-width="1" fill="none"/>
<g transform="translate(177 1444.4)">
<use href="#blkB"/>
<path d="M218.4 -24.6L220 -3.2M236.6 -24.6L233.1 9.4M219.3 -17.6L235.8 -16.1" stroke="#000" stroke-width="2.6" fill="none"/>
<circle cx="231" cy="26" r="6.6" fill="none" stroke="#aaa" stroke-width="1"/>
<circle cx="221.6" cy="112" r="6.6" fill="none" stroke="#aaa" stroke-width="1"/>
<line x1="227.5" y1="58.1" x2="224.2" y2="84.5" stroke="#f00" stroke-width="6" stroke-linecap="round"/>
<circle cx="227.5" cy="56.6" r="6.8" fill="none" stroke="#000" stroke-width="0.9"/>
<circle cx="224.2" cy="86" r="6.8" fill="none" stroke="#000" stroke-width="0.9"/>
</g>
<g clip-path="url(#c5)" fill="none" stroke-linejoin="round">
<polyline points="161.2,1718.4 181.63,1717.75 1182.6,1584.49" stroke="#00f" stroke-width="5"/>
<polyline points="161.2,1718.4 263.34,1692.86 365.48,1669.55 467.62,1644.41 569.76,1620.18 671.9,1597.92 774.04,1573.89 876.18,1548.81 978.32,1523.92 1080.46,1496.42 1182.6,1470.23" stroke="#000" stroke-width="4"/>
<polyline points="161.2,1718.4 263.34,1700.72 365.48,1673.22 467.62,1655.54 569.76,1628.89 671.9,1621.49 774.04,1595.3 876.18,1567.8 978.32,1551.43 1080.46,1533.75 1182.6,1508.86" stroke="#f00" stroke-width="5"/>
<path d="M263.34 1678.06V1703.34" stroke="#000" stroke-width="5.5"/>
<path d="M257.54 1678.46H269.14M257.54 1702.74H269.14" stroke="#000" stroke-width="4.8"/>
<path d="M365.48 1639.17V1688.28" stroke="#000" stroke-width="5.5"/>
<path d="M359.68 1639.57H371.28M359.68 1687.68H371.28" stroke="#000" stroke-width="4.8"/>
<path d="M467.62 1610.36V1671.58" stroke="#000" stroke-width="5.5"/>
<path d="M461.82 1610.76H473.42M461.82 1670.98H473.42" stroke="#000" stroke-width="4.8"/>
<path d="M569.76 1582.86V1647.03" stroke="#000" stroke-width="5.5"/>
<path d="M563.96 1583.26H575.56M563.96 1646.43H575.56" stroke="#000" stroke-width="4.8"/>
<path d="M671.9 1560.59V1623.06" stroke="#000" stroke-width="5.5"/>
<path d="M666.1 1560.99H677.7M666.1 1622.46H677.7" stroke="#000" stroke-width="4.8"/>
<path d="M774.04 1531.78V1601.85" stroke="#000" stroke-width="5.5"/>
<path d="M768.24 1532.18H779.84M768.24 1601.25H779.84" stroke="#000" stroke-width="4.8"/>
<path d="M876.18 1507.55V1579.58" stroke="#000" stroke-width="5.5"/>
<path d="M870.38 1507.95H881.98M870.38 1578.98H881.98" stroke="#000" stroke-width="4.8"/>
<path d="M978.32 1480.71V1552.74" stroke="#000" stroke-width="5.5"/>
<path d="M972.52 1481.11H984.12M972.52 1552.14H984.12" stroke="#000" stroke-width="4.8"/>
<path d="M1080.46 1444.96V1524.19" stroke="#000" stroke-width="5.5"/>
<path d="M1074.66 1445.36H1086.26M1074.66 1523.59H1086.26" stroke="#000" stroke-width="4.8"/>
<path d="M1182.6 1408.29V1506.9" stroke="#000" stroke-width="5.5"/>
<path d="M1176.8 1408.69H1188.4M1176.8 1506.3H1188.4" stroke="#000" stroke-width="4.8"/>
</g>
<path d="M263.34 1718.4V1713.4M365.48 1718.4V1708.4M467.62 1718.4V1713.4M569.76 1718.4V1708.4M671.9 1718.4V1713.4M774.04 1718.4V1708.4M876.18 1718.4V1713.4M978.32 1718.4V1708.4M1080.46 1718.4V1713.4M161.2 1587.44H171.2M161.2 1456.48H171.2M161.2 1652.92H166.2M161.2 1521.96H166.2" stroke="#000" stroke-width="1.8" fill="none"/>
<rect x="161.2" y="1391" width="1021.4" height="327.4" fill="none" stroke="#000" stroke-width="1.8"/>
<text x="149.6" y="1733.6" font-size="50" text-anchor="end">0.0</text>
<text x="149.6" y="1602.64" font-size="50" text-anchor="end">0.2</text>
<text x="149.6" y="1471.68" font-size="50" text-anchor="end">0.4</text>
<clipPath id="c6"><rect x="161.2" y="1759.5" width="1021.4" height="327.5"/></clipPath>
<rect x="161.2" y="1759.5" width="1021.4" height="327.5" fill="#fff"/>
<path d="M263.34 1759.5V2087M467.62 1759.5V2087M671.9 1759.5V2087M876.18 1759.5V2087M1080.46 1759.5V2087M161.2 2021.5H1182.6M161.2 1890.5H1182.6" stroke="#dcdcdc" stroke-width="0.75" stroke-dasharray="2.8 2.6" fill="none"/>
<path d="M365.48 1759.5V2087M569.76 1759.5V2087M774.04 1759.5V2087M978.32 1759.5V2087M161.2 1956H1182.6M161.2 1825H1182.6" stroke="#9e9e9e" stroke-width="1" fill="none"/>
<g transform="translate(177 1811.1)">
<use href="#blkB"/>
<path d="M218.4 -24.6L220 -3.2M236.6 -24.6L233.1 9.4M219.3 -17.6L235.8 -16.1" stroke="#000" stroke-width="2.6" fill="none"/>
<circle cx="231" cy="26" r="6.6" fill="none" stroke="#aaa" stroke-width="1"/>
<circle cx="227.5" cy="56.6" r="6.6" fill="none" stroke="#aaa" stroke-width="1"/>
<line x1="224.2" y1="87.5" x2="221.6" y2="110.5" stroke="#f00" stroke-width="6" stroke-linecap="round"/>
<circle cx="224.2" cy="86" r="6.8" fill="none" stroke="#000" stroke-width="0.9"/>
<circle cx="221.6" cy="112" r="6.8" fill="none" stroke="#000" stroke-width="0.9"/>
</g>
<g clip-path="url(#c6)" fill="none" stroke-linejoin="round">
<polyline points="161.2,2087 181.63,2086.34 1182.6,1953.05" stroke="#00f" stroke-width="5"/>
<polyline points="161.2,2087 263.34,2058.84 365.48,2032.9 467.62,2005.39 569.76,1981.55 671.9,1956.65 774.04,1930.45 876.18,1902.94 978.32,1877.66 1080.46,1856.64 1182.6,1834.17" stroke="#000" stroke-width="4"/>
<polyline points="161.2,2087 263.34,2058.84 365.48,2033.94 467.62,2010.37 569.76,1988.1 671.9,1961.89 774.04,1938.97 876.18,1916.7 978.32,1894.43 1080.46,1874.12 1182.6,1852.51" stroke="#f00" stroke-width="5"/>
<path d="M263.34 2054.25V2065.39" stroke="#000" stroke-width="5.5"/>
<path d="M257.54 2054.65H269.14M257.54 2064.79H269.14" stroke="#000" stroke-width="4.8"/>
<path d="M365.48 2023.92V2043.12" stroke="#000" stroke-width="5.5"/>
<path d="M359.68 2024.32H371.28M359.68 2042.52H371.28" stroke="#000" stroke-width="4.8"/>
<path d="M467.62 1992.88V2022.15" stroke="#000" stroke-width="5.5"/>
<path d="M461.82 1993.28H473.42M461.82 2021.56H473.42" stroke="#000" stroke-width="4.8"/>
<path d="M569.76 1970.41V1995.95" stroke="#000" stroke-width="5.5"/>
<path d="M563.96 1970.81H575.56M563.96 1995.36H575.56" stroke="#000" stroke-width="4.8"/>
<path d="M671.9 1941.79V1971.72" stroke="#000" stroke-width="5.5"/>
<path d="M666.1 1942.19H677.7M666.1 1971.12H677.7" stroke="#000" stroke-width="4.8"/>
<path d="M774.04 1910.15V1952.07" stroke="#000" stroke-width="5.5"/>
<path d="M768.24 1910.55H779.84M768.24 1951.47H779.84" stroke="#000" stroke-width="4.8"/>
<path d="M876.18 1879.37V1927.84" stroke="#000" stroke-width="5.5"/>
<path d="M870.38 1879.77H881.98M870.38 1927.24H881.98" stroke="#000" stroke-width="4.8"/>
<path d="M978.32 1852.51V1903.6" stroke="#000" stroke-width="5.5"/>
<path d="M972.52 1852.91H984.12M972.52 1903H984.12" stroke="#000" stroke-width="4.8"/>
<path d="M1080.46 1823.69V1889.85" stroke="#000" stroke-width="5.5"/>
<path d="M1074.66 1824.09H1086.26M1074.66 1889.25H1086.26" stroke="#000" stroke-width="4.8"/>
<path d="M1182.6 1795.07V1876.09" stroke="#000" stroke-width="5.5"/>
<path d="M1176.8 1795.47H1188.4M1176.8 1875.49H1188.4" stroke="#000" stroke-width="4.8"/>
</g>
<path d="M263.34 2087V2082M365.48 2087V2077M467.62 2087V2082M569.76 2087V2077M671.9 2087V2082M774.04 2087V2077M876.18 2087V2082M978.32 2087V2077M1080.46 2087V2082M161.2 1956H171.2M161.2 1825H171.2M161.2 2021.5H166.2M161.2 1890.5H166.2" stroke="#000" stroke-width="1.8" fill="none"/>
<rect x="161.2" y="1759.5" width="1021.4" height="327.5" fill="none" stroke="#000" stroke-width="1.8"/>
<text x="149.6" y="2102.2" font-size="50" text-anchor="end">0.0</text>
<text x="149.6" y="1971.2" font-size="50" text-anchor="end">0.2</text>
<text x="149.6" y="1840.2" font-size="50" text-anchor="end">0.4</text>
<text x="161.2" y="2136" font-size="50" text-anchor="middle">0</text>
<text x="365.48" y="2136" font-size="50" text-anchor="middle">1</text>
<text x="569.76" y="2136" font-size="50" text-anchor="middle">2</text>
<text x="774.04" y="2136" font-size="50" text-anchor="middle">3</text>
<text x="978.32" y="2136" font-size="50" text-anchor="middle">4</text>
<text x="1182.6" y="2136" font-size="50" text-anchor="middle">5</text>
<text x="671.6" y="2199.5" font-size="54.5" text-anchor="middle" textLength="242.6" lengthAdjust="spacingAndGlyphs">Force(kN)</text>
<text x="623.2" y="2277.3" font-size="49" text-anchor="middle" textLength="508.5" lengthAdjust="spacingAndGlyphs">(b) Angular displacement</text>
<text transform="translate(41.5 1559.7) rotate(-90)" font-size="57.5" text-anchor="middle" textLength="668" lengthAdjust="spacingAndGlyphs">Angular displacement(mrad)</text>
</svg>
</body></html>
